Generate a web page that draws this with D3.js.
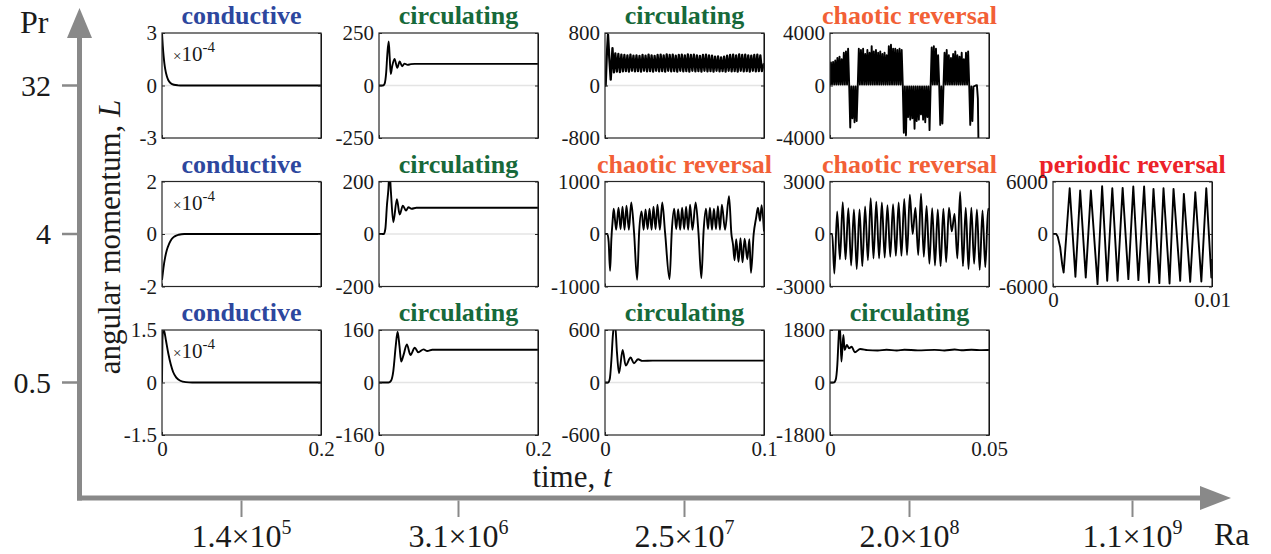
<!DOCTYPE html>
<html>
<head>
<meta charset="utf-8">
<script src="https://cdn.jsdelivr.net/npm/d3@7"></script>
<style>
body { margin: 0; background: #fff; }
svg { display: block; background: #fff; }
text { font-family: "Liberation Serif", "Times New Roman", serif; fill: #1a1a1a; }
</style>
</head>
<body>
<svg width="1271" height="554"></svg>
<script>
// ---- categories / tick labels
var prLabels = ["32", "4", "0.5"];
var raMantissa = ["1.4", "3.1", "2.5", "2.0", "1.1"];
var raExponent = ["5", "6", "7", "8", "9"];
var tEnd = [0.2, 0.2, 0.1, 0.05, 0.01];

var regimes32 = ["conductive", "circulating", "circulating", "chaotic reversal"];
var regimes4 = ["conductive", "circulating", "chaotic reversal", "chaotic reversal", "periodic reversal"];
var regimes05 = ["conductive", "circulating", "circulating", "circulating"];

var yLim32 = [3, 250, 800, 4000];
var yLim4 = [2, 200, 1000, 3000, 6000];
var yLim05 = [1.5, 160, 600, 1800];

var regimeColor = {
  "conductive": "#2d479e",
  "circulating": "#17693a",
  "chaotic reversal": "#f26036",
  "periodic reversal": "#ec2229"
};

// ---- series, [t, L]   (conductive ones in units of 1e-4)
var cond32 = [[0,3],[0.001,2.25],[0.002,1.69],[0.003,1.27],[0.004,0.95],[0.006,0.54],[0.008,0.3],[0.011,0.13],[0.015,0.041],[0.02,0.01],[0.026,0],[0.2,0]];
var cond4 = [[0,-1.75],[0.001,-1.5],[0.002,-1.25],[0.004,-0.88],[0.006,-0.62],[0.009,-0.37],[0.012,-0.2],[0.016,-0.09],[0.021,-0.03],[0.028,0],[0.2,0]];
var cond05 = [[0,0],[0.0005,1.2],[0.0015,1.5],[0.003,1.45],[0.005,1.2],[0.008,0.82],[0.011,0.52],[0.014,0.3],[0.018,0.14],[0.023,0.05],[0.03,0.01],[0.038,0],[0.2,0]];

var circ32a = [[0,0],[0.005,0],[0.007,8],[0.009,60],[0.0105,150],[0.0122,210],[0.0135,130],[0.0148,55],[0.0165,90],[0.0195,127],[0.023,84],[0.026,115],[0.029,92],[0.032,104],[0.036,98],[0.04,102],[0.045,103],[0.2,103]];
var circ4a = [[0,0],[0.006,0],[0.008,20],[0.01,110],[0.0118,170],[0.0132,240],[0.015,160],[0.018,45],[0.0225,133],[0.026,74],[0.03,108],[0.034,89],[0.037,102],[0.041,96],[0.047,100],[0.2,100]];
var circ05a = [[0,0],[0.012,0],[0.015,5],[0.018,35],[0.021,110],[0.0234,155],[0.0258,110],[0.0279,64],[0.031,85],[0.035,116],[0.0396,84],[0.045,106],[0.0494,92],[0.056,101],[0.0607,96],[0.067,100],[0.2,100]];
var circ05b = [[0,0],[0.0019,0],[0.003,40],[0.004,250],[0.005,550],[0.0063,680],[0.0075,350],[0.0088,106],[0.0111,372],[0.013,194],[0.0161,285],[0.0182,220],[0.0208,266],[0.0235,247],[0.03,250],[0.1,250]];
var circ05c = [[0,0],[0.0012,0],[0.0018,100],[0.0023,600],[0.0027,1500],[0.003,2000],[0.0033,1500],[0.0036,718],[0.0042,1630],[0.0046,1116],[0.0053,1287],[0.006,1173],[0.0068,1230],[0.0078,1037],[0.0095,1150],[0.0118,1110],[0.015,1095],[0.0178,1125],[0.021,1095],[0.0234,1125],[0.0276,1100],[0.0329,1120],[0.036,1098],[0.0392,1130],[0.0413,1105],[0.0445,1122],[0.0477,1110],[0.05,1115]];

// Pr=32, Ra=2.5e7 : spike then fast oscillation band (peak, trough, peak, ...)
var circ32bHead = [[0,0],[0.0004,0],[0.0011,450],[0.0019,775],[0.0027,420],[0.0036,90],[0.0047,570],[0.0056,200]];
var circ32bDt = 0.00095;
var circ32bBand = [
  490,210, 480,205, 470,215, 465,220, 460,210, 470,225, 455,215, 460,220, 450,210, 465,225,
  455,215, 470,220, 460,212, 450,225, 465,215, 470,220, 460,210, 475,225, 465,215, 470,220,
  455,212, 465,225, 470,215, 460,220, 475,210, 465,225, 470,215, 460,220, 450,212, 465,225,
  470,215, 460,220, 455,210, 440,225, 445,215, 430,220, 440,212, 455,225, 465,215, 470,220,
  460,210, 475,225, 465,215, 470,220, 460,212, 455,225, 465,215, 470,220, 460,218];

// Pr=32, Ra=2e8 : bursts of spikes, each spike falls back near zero
var chaos32Step = 0.000674;
var chaos32Floor = 80;
var chaos32Peaks = [
  1750, 1800, 1900, 2100, 2200, 2000, 2500, 2600, 2800,
  -3200, -2500, -2800, -2700,
  2800, 2700, 2800, 2400, 2700, 2500, 3000, 2600, 2700, 2500, 2600, 2400, 2500, 2300, 3000, 3100, 2800, 2800, 2700, 2800, 2700,
  -3600, -3800, -2400, -2600, -2500, -3300, -2700, -2600, -2200, -2600, -2800, -2400, -3400,
  2900, 3000, 2800, 2300,
  -3000, -2900,
  2500, 2700, 2300, 2100, 2400, 2600, 2300, 2200, 2500, 2000, 2500, 2600,
  -3000, -2700];
var chaos32Tail = [[0.0458,0],[0.0462,20],[0.0465,-1000],[0.0467,-4600]];

var chaos4a = [[0,0],[0.0015,0],[0.0023,-150],[0.0032,-700],[0.004,-100],[0.0048,250],
  [0.0055,480],[0.007,80],[0.0085,500],[0.0098,90],[0.011,520],[0.0123,80],[0.0135,540],[0.015,80],[0.0165,600],[0.0183,20],[0.0202,-870],[0.0215,50],
  [0.023,430],[0.0243,80],[0.0255,470],[0.0268,90],[0.028,480],[0.0293,80],[0.0305,520],[0.0318,90],[0.033,560],[0.0345,80],[0.036,600],[0.0378,20],[0.0406,-860],[0.042,50],
  [0.0435,480],[0.0448,90],[0.046,470],[0.0473,80],[0.0485,500],[0.0498,90],[0.051,520],[0.0523,80],[0.0535,560],[0.055,80],[0.057,600],[0.0588,20],[0.0606,-840],[0.062,50],
  [0.0635,480],[0.0648,90],[0.066,500],[0.0673,80],[0.0685,480],[0.0698,90],[0.071,530],[0.0723,80],[0.0735,560],[0.0755,80],[0.078,720],[0.0795,0],
  [0.0805,-200],[0.0815,-500],[0.0825,-100],[0.084,-530],[0.0852,-80],[0.0865,-540],[0.0878,-90],[0.0895,-480],[0.0908,-100],[0.0918,-740],[0.0935,0],
  [0.095,300],[0.0962,500],[0.0975,250],[0.0985,550],[0.1,50]];

// Pr=4, Ra=2e8 : trough, peak, trough, ...
var chaos4bHead = [[0,0],[0.0007,0]];
var chaos4bT0 = 0.00137, chaos4bDt = 0.000879;
var chaos4bVals = [
  -2260,1290, -1450,1820, -1450,1480, -1800,1400, -2000,1400, -1850,1580, -1500,2050, -1400,1850,
  -1400,1800, -1350,1650, -1300,1700, -1250,1800, -1250,2000, -1200,2250, 0,1500, -1200,2300,
  -1300,1600, -1700,1480, -1800,1400, -1850,1450, -1600,1500, 150,1150, -1400,2400, -1850,1500,
  -2000,1500, -1700,1400, -2050,1350, -1900,1450];

var periodic4 = [[0,0],[0.0002,0],[0.0003,-300],[0.00045,-1500],[0.00058,-3500],[0.00067,-4400],[0.00105,5235],[0.00141,-4892],[0.00171,4968],[0.00206,-4968],[0.00238,4968],[0.0028,-5732],[0.00309,5465],[0.00341,-5350],[0.00373,5235],[0.00406,-5350],[0.00438,5274],[0.00474,-5159],[0.00505,5427],[0.00537,-5274],[0.00573,5427],[0.00604,-5541],[0.00632,5159],[0.00669,-5618],[0.00695,5235],[0.00733,-5656],[0.00758,5159],[0.008,-5350],[0.00823,4586],[0.00863,-5465],[0.00895,4777],[0.00933,-5427],[0.00964,5235],[0.00996,-4968],[0.01,-2870]];

// ---- assemble the sampled series
function sampled(head, t0, dt, vals, tail) {
  var pts = head.slice();
  vals.forEach(function(v, i) { pts.push([t0 + i * dt, v]); });
  return pts.concat(tail);
}
function spikeTrain(t0, step, peaks, floor, tail) {
  var pts = [[0, 0]];
  peaks.forEach(function(p, i) {
    pts.push([t0 + i * step, p]);
    pts.push([t0 + (i + 0.5) * step, p > 0 ? floor : -floor]);
  });
  return pts.concat(tail);
}
var circ32b = sampled(circ32bHead, 0.0065, circ32bDt, circ32bBand, [[0.1, 340]]);
var chaos32 = spikeTrain(0.0003, chaos32Step, chaos32Peaks, chaos32Floor, chaos32Tail);
var chaos4b = sampled(chaos4bHead, chaos4bT0, chaos4bDt, chaos4bVals, [[0.05, 1300]]);

var series32 = [cond32, circ32a, circ32b, chaos32];
var series4 = [cond4, circ4a, chaos4a, chaos4b, periodic4];
var series05 = [cond05, circ05a, circ05b, circ05c];

var rows = [
  { pr: "32", regimes: regimes32, lim: yLim32, data: series32 },
  { pr: "4", regimes: regimes4, lim: yLim4, data: series4 },
  { pr: "0.5", regimes: regimes05, lim: yLim05, data: series05 }
];

// ---- layout
var svg = d3.select("svg");
var panelW = 159, panelH = 105;
var axisColor = "#898989";

var colX = d3.scaleOrdinal().domain(raMantissa).range([241.5, 458.5, 684.5, 909.5, 1132.5]);
var rowY = d3.scalePoint().domain(prLabels).range([85.5, 382.5]);

// big Ra / Pr axes
var axisX0 = 79.5, axisY0 = 498;
svg.append("line").attr("x1", axisX0).attr("x2", axisX0).attr("y1", axisY0 + 2.5).attr("y2", 36)
  .attr("stroke", axisColor).attr("stroke-width", 5);
svg.append("path").attr("d", "M" + axisX0 + ",8L" + (axisX0 - 12.5) + ",38L" + (axisX0 + 12.5) + ",38Z").attr("fill", axisColor);
svg.append("line").attr("x1", axisX0 - 2.5).attr("x2", 1202).attr("y1", axisY0).attr("y2", axisY0)
  .attr("stroke", axisColor).attr("stroke-width", 5);
svg.append("path").attr("d", "M1231," + axisY0 + "L1200," + (axisY0 - 12) + "L1200," + (axisY0 + 12) + "Z").attr("fill", axisColor);

prLabels.forEach(function(p) {
  var y = rowY(p);
  svg.append("line").attr("x1", 62).attr("x2", axisX0).attr("y1", y).attr("y2", y)
    .attr("stroke", axisColor).attr("stroke-width", 2.5);
  svg.append("text").attr("x", 51).attr("y", y + 10).attr("text-anchor", "end")
    .style("font-size", "30px").text(p);
});
svg.append("text").attr("x", 20).attr("y", 33).style("font-size", "32px").text("Pr");

raMantissa.forEach(function(m, i) {
  var x = colX(m);
  svg.append("line").attr("x1", x).attr("x2", x).attr("y1", axisY0 + 2.5).attr("y2", 517)
    .attr("stroke", axisColor).attr("stroke-width", 2);
  var t = svg.append("text").attr("x", x).attr("y", 547).attr("text-anchor", "middle").style("font-size", "32px");
  t.append("tspan").text(m + "\u00d710");
  t.append("tspan").attr("dy", -13).style("font-size", "20px").text(raExponent[i]);
});
svg.append("text").attr("x", 1214).attr("y", 545).style("font-size", "32px").text("Ra");

// axis titles
var yl = svg.append("text").attr("transform", "translate(120,237) rotate(-90)")
  .attr("text-anchor", "middle").style("font-size", "31px");
yl.append("tspan").text("angular momentum, ");
yl.append("tspan").style("font-style", "italic").text("L");
var xl = svg.append("text").attr("x", 572).attr("y", 487).attr("text-anchor", "middle").style("font-size", "31px");
xl.append("tspan").text("time, ");
xl.append("tspan").style("font-style", "italic").text("t");

// ---- panels
var line = d3.line();
var clipId = 0;

rows.forEach(function(row, r) {
  row.data.forEach(function(pts, c) {
    var T = tEnd[c], lim = row.lim[c], regime = row.regimes[c];
    var left = colX(raMantissa[c]) - panelW / 2, top = rowY(row.pr) - panelH / 2;
    var x = d3.scaleLinear().domain([0, T]).range([0, panelW]);
    var y = d3.scaleLinear().domain([-lim, lim]).range([panelH, 0]);
    var g = svg.append("g").attr("transform", "translate(" + left + "," + top + ")");

    g.append("text").attr("x", panelW / 2).attr("y", -9).attr("text-anchor", "middle")
      .style("font-size", "26px").style("font-weight", "bold").style("fill", regimeColor[regime])
      .text(regime);

    g.append("line").attr("x1", 0).attr("x2", panelW).attr("y1", y(0)).attr("y2", y(0))
      .attr("stroke", "#e4e4e4").attr("stroke-width", 1.5);

    var id = "clip" + (clipId++);
    g.append("clipPath").attr("id", id).append("rect").attr("width", panelW).attr("height", panelH);

    var sharp = regime == "periodic reversal" || pts === chaos32 || pts === circ32b;
    line.x(function(d) { return x(d[0]); }).y(function(d) { return y(d[1]); })
      .curve(sharp ? d3.curveLinear : d3.curveMonotoneX);
    g.append("path").attr("clip-path", "url(#" + id + ")").attr("d", line(pts))
      .attr("fill", "none").attr("stroke", "#000").attr("stroke-width", pts === circ32b ? 2.3 : 1.9)
      .attr("stroke-linejoin", "round");

    var showX = r == 2 || (r == 1 && c == 4);
    var yAxis = d3.axisLeft(y).tickValues([-lim, 0, lim]).tickSize(-3).tickSizeOuter(0).tickPadding(5)
      .tickFormat(function(d) { return String(d); });
    var xAxis = d3.axisBottom(x).tickValues([0, T]).tickSize(-3).tickSizeOuter(0).tickPadding(6)
      .tickFormat(function(d) { return showX ? String(d) : ""; });

    var ya = g.append("g").call(yAxis);
    var xa = g.append("g").attr("transform", "translate(0," + panelH + ")").call(xAxis);
    g.append("g").attr("transform", "translate(" + panelW + ",0)")
      .call(d3.axisRight(y).tickValues([-lim, 0, lim]).tickSize(-3).tickSizeOuter(0).tickFormat(""));
    [ya, xa].forEach(function(a) {
      a.select(".domain").remove();
      a.selectAll("text").style("font-size", "21px").style("font-family", "'Liberation Serif', serif").attr("fill", "#1a1a1a");
    });
    g.selectAll(".tick line").attr("stroke", "#262626");

    g.append("rect").attr("width", panelW).attr("height", panelH)
      .attr("fill", "none").attr("stroke", "#262626").attr("stroke-width", 1.2);

    if (regime == "conductive") {
      var m = g.append("text").attr("x", 11).attr("y", 28).style("font-size", "21px");
      m.append("tspan").style("font-size", "15px").text("\u00d7");
      m.append("tspan").text("10");
      m.append("tspan").attr("dy", -9).style("font-size", "15px").text("-4");
    }
  });
});
</script>
</body>
</html>
